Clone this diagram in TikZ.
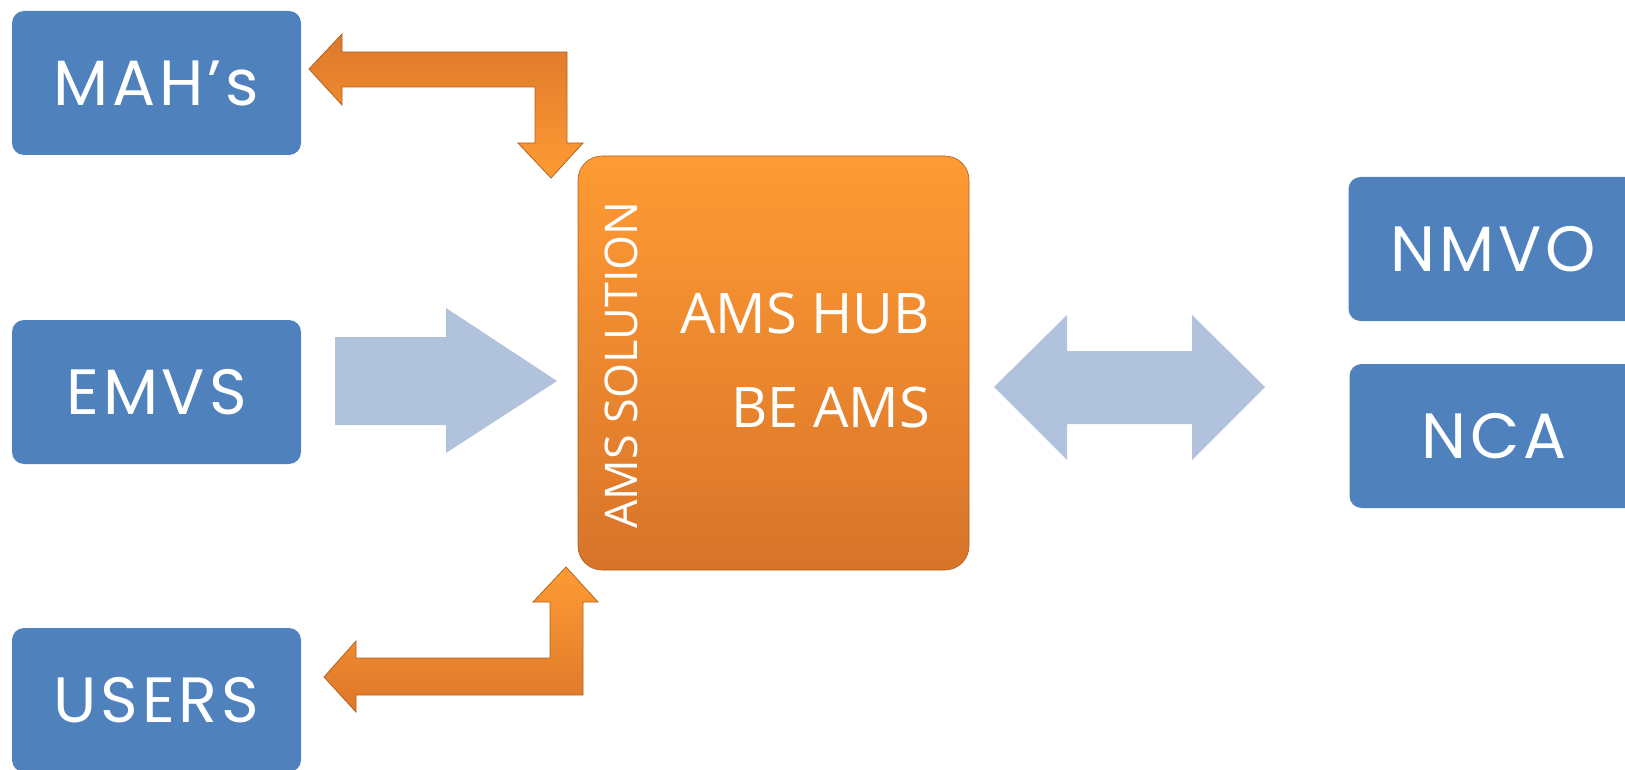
\documentclass[tikz,border=0pt]{standalone}
\usepackage{fontspec}
\setmainfont{Open Sans}
\newfontfamily\boxfont{Poppins}[LetterSpace=6]
\definecolor{boxblue}{HTML}{4F81BD}
\definecolor{arrowblue}{HTML}{B1C2DC}
\definecolor{hubtop}{HTML}{FF9B33}
\definecolor{hubbottom}{HTML}{D8742A}
\definecolor{rimorange}{HTML}{B5601E}
\tikzset{
  party/.style={fill=boxblue, rounded corners=12pt, minimum width=289pt,
    minimum height=144pt, inner sep=0pt, text=white,
    font=\boxfont\fontsize{64}{70}\selectfont},
  hubbox/.style={top color=hubtop, bottom color=hubbottom, draw=hubbottom!80!black,
    line width=0.6pt, rounded corners=24pt, minimum width=391pt, minimum height=414pt},
  hubtext/.style={text=white, inner sep=0pt, font=\fontsize{56}{62}\selectfont},
  flow/.style={fill=arrowblue},
  bent/.style={draw=rimorange, line width=0.8pt},
}
\begin{document}
\begin{tikzpicture}[x=1pt,y=-1pt]
  \useasboundingbox (0,0) rectangle (1625,770);
  \clip (0,0) rectangle (1625,770);

  % Partners
  \node[party] (mah) at (156.5,83) {MAH’s};
  \node[party] (emvs) at (156.5,392) {EMVS};
  \node[party] (users) at (156.5,700) {USERS};
  \node[party] (nmvo) at (1493,249) {NMVO};
  \node[party] (nca) at (1494,436) {NCA};

  % Hub
  \node[hubbox] (hub) at (773.5,363) {};
  \node[hubtext, anchor=base east] (hubname) at (930,333) {AMS HUB};
  \node[hubtext, anchor=base east] (beams) at (930,427) {BE AMS};
  \node[hubtext, rotate=90, anchor=base, font=\fontsize{45}{50}\selectfont] (solution) at (637,365) {AMS SOLUTION};

  % Flows
  \fill[flow] (335,337) -- (446,337) -- (446,308) -- (557,381) -- (446,453)
    -- (446,425) -- (335,425) -- cycle;
  \fill[flow] (994,387) -- (1067,315) -- (1067,351) -- (1192,351) -- (1192,315)
    -- (1265,387) -- (1192,460) -- (1192,424) -- (1067,424) -- (1067,460) -- cycle;
  \shade[bent, top color=hubbottom!90!hubtop, bottom color=hubtop]
    (309,69) -- (342,34) -- (342,52) -- (567,52) -- (567,143) -- (583,143)
    -- (551,178) -- (518,143) -- (535,143) -- (535,87) -- (342,87) -- (342,105) -- cycle;
  \shade[bent, top color=hubtop, bottom color=hubbottom!90!hubtop]
    (566,567) -- (598,602) -- (583,602) -- (583,695) -- (356,695) -- (356,712)
    -- (324,677) -- (356,641) -- (356,658) -- (550,658) -- (550,602) -- (533,602) -- cycle;
\end{tikzpicture}
\end{document}
